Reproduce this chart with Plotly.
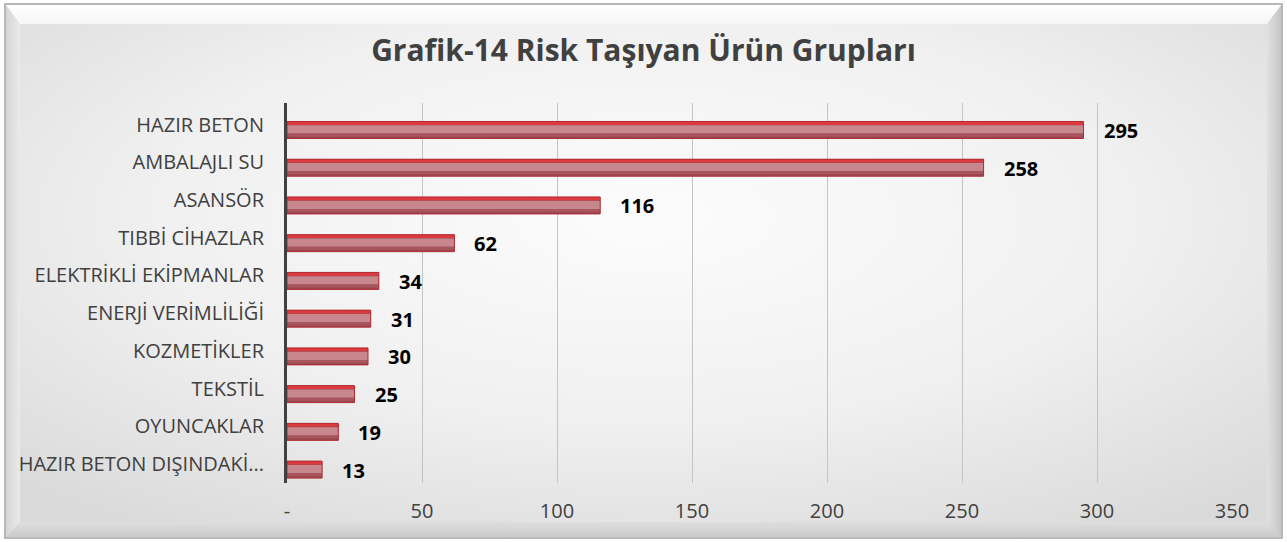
import base64
import plotly.graph_objects as go

categories = ["HAZIR BETON", "AMBALAJLI SU", "ASANSÖR", "TIBBİ CİHAZLAR",
              "ELEKTRİKLİ EKİPMANLAR", "ENERJİ VERİMLİLİĞİ", "KOZMETİKLER",
              "TEKSTİL", "OYUNCAKLAR", "HAZIR BETON DIŞINDAKİ..."]
values = [295, 258, 116, 62, 34, 31, 30, 25, 19, 13]
tick_vals = [0, 50, 100, 150, 200, 250, 300, 350]
tick_text = ["-", "50", "100", "150", "200", "250", "300", "350"]
title_text = "Grafik-14 Risk Taşıyan Ürün Grupları"

W, H = 1287, 542
ML, MR, MT, MB = 287, 55, 103, 59
FONT = "'Open Sans', 'Noto Sans', sans-serif"

svg = f'''<svg xmlns="http://www.w3.org/2000/svg" width="{W}" height="{H}" viewBox="0 0 {W} {H}" preserveAspectRatio="none">
<defs>
<radialGradient id="g" cx="50%" cy="40%" r="70%">
<stop offset="0%" stop-color="#fcfcfc"/>
<stop offset="55%" stop-color="#f0f0f0"/>
<stop offset="100%" stop-color="#dadada"/>
</radialGradient>
<linearGradient id="top" x1="0" y1="0" x2="0" y2="1"><stop offset="0" stop-color="#ffffff"/><stop offset="1" stop-color="#f6f6f6"/></linearGradient>
<linearGradient id="left" x1="0" y1="0" x2="1" y2="0"><stop offset="0" stop-color="#d4d4d4"/><stop offset="1" stop-color="#eaeaea"/></linearGradient>
<linearGradient id="right" x1="0" y1="0" x2="1" y2="0"><stop offset="0" stop-color="#e0e0e0"/><stop offset="1" stop-color="#c4c4c4"/></linearGradient>
<linearGradient id="bot" x1="0" y1="0" x2="0" y2="1"><stop offset="0" stop-color="#dedede"/><stop offset="1" stop-color="#cacaca"/></linearGradient>
</defs>
<rect x="0" y="0" width="{W}" height="{H}" fill="#ffffff"/>
<rect x="5" y="4" width="{W-10}" height="{H-8}" fill="url(#g)"/>
<polygon points="5,4 {W-5},4 {W-20},24 20,24" fill="url(#top)"/>
<polygon points="5,4 20,24 20,{H-20} 5,{H-4}" fill="url(#left)"/>
<polygon points="{W-5},4 {W-5},{H-4} {W-20},{H-20} {W-20},24" fill="url(#right)"/>
<polygon points="5,{H-4} 20,{H-20} {W-20},{H-20} {W-5},{H-4}" fill="url(#bot)"/>
<rect x="5" y="4" width="{W-10}" height="{H-8}" fill="none" stroke="#b8b8b8" stroke-width="2"/>
</svg>'''
src = "data:image/svg+xml;base64," + base64.b64encode(svg.encode("utf-8")).decode()

pw = W - ML - MR
ph = H - MT - MB

fig = go.Figure()

layers = [
    dict(offset=-0.08, width=0.45, color="#9b4850"),
    dict(offset=0.02, width=0.22, color="#c8868d"),
    dict(offset=0.24, width=0.08, color="#a9555d"),
    dict(offset=-0.08, width=0.09, color="#dc3a3e"),
]
for L in layers:
    fig.add_trace(go.Bar(
        y=categories, x=values, orientation="h",
        offset=L["offset"], width=L["width"],
        marker=dict(color=L["color"], line=dict(width=0)),
        hoverinfo="skip", showlegend=False,
    ))

fig.add_trace(go.Bar(
    y=categories, x=values, orientation="h",
    offset=-0.08, width=0.45,
    marker=dict(color="rgba(0,0,0,0)", line=dict(width=1, color="#b02a30")),
    hoverinfo="skip", showlegend=False,
))

for c, v in zip(categories, values):
    fig.add_annotation(
        x=v, y=c, text=f"<b>{v}</b>", showarrow=False,
        xanchor="left", yanchor="middle", xshift=18, yshift=-6,
        font=dict(family=FONT, size=20, color="#000000"),
    )

fig.update_layout(
    width=W, height=H,
    margin=dict(l=ML, r=MR, t=MT, b=MB, pad=0),
    barmode="overlay",
    paper_bgcolor="#ffffff",
    plot_bgcolor="rgba(0,0,0,0)",
    title=dict(text=f"<b>{title_text}</b>", x=0.5, xanchor="center",
               y=1 - 50 / H, yanchor="middle",
               font=dict(family=FONT, size=30, color="#404040")),
    font=dict(family=FONT, size=20, color="#404040"),
    images=[dict(source=src, xref="paper", yref="paper",
                 x=-ML / pw, y=1 + MT / ph, sizex=W / pw, sizey=H / ph,
                 xanchor="left", yanchor="top", sizing="stretch", layer="below")],
    xaxis=dict(range=[0, 350], tickvals=tick_vals, ticktext=tick_text,
               showgrid=True, gridcolor="#c4c4c4", gridwidth=1,
               zeroline=False, showline=False, ticks="", automargin=False,
               ticklabelstandoff=14,
               tickfont=dict(family=FONT, size=20, color="#404040")),
    yaxis=dict(autorange="reversed", showline=True, linecolor="#404040", linewidth=3,
               showgrid=False, ticks="", ticklabelstandoff=16, automargin=False,
               tickfont=dict(family=FONT, size=20, color="#404040")),
)

fig.write_html("out.html", config={"displayModeBar": False},
               post_script="document.body.style.margin='0';document.body.style.overflow='hidden';")
